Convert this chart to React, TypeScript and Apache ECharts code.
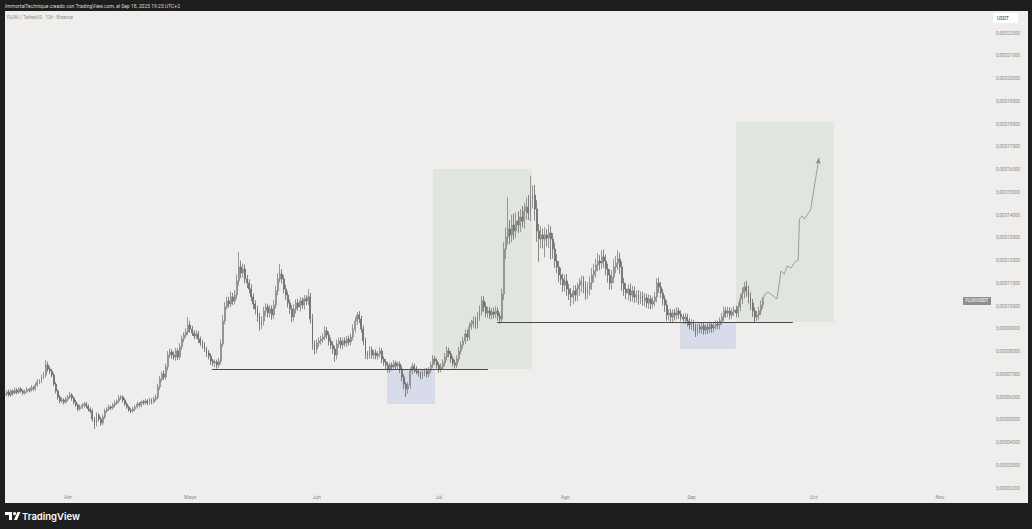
import React, { useEffect, useRef } from "react";
import * as echarts from "echarts";

// ---- data (prices in units of 1e-8 USDT) ----
const START = Date.UTC(2025, 2, 16, 12);
const STEP = 12 * 3600 * 1000;
const FIRST_OPEN = 6100;

const closes = [
  6132,6220,6088,6264,6176,6300,6210,6350,6260,6180,
  6240,6330,6290,6400,6360,6527,6660,6700,6880,6967,
  7407,7231,7143,6967,6571,6264,6000,5824,5868,5780,
  5912,6000,6088,5956,5780,5648,5473,5560,5648,5692,
  5604,5473,5385,5033,4857,5209,5033,4857,5121,5385,
  5473,5560,5517,5648,5736,5824,5956,6000,5868,5692,
  5560,5429,5385,5473,5560,5692,5648,5780,5736,5824,
  5736,5868,5780,5912,6000,6440,6791,7011,6880,7319,
  7846,7978,7846,7758,8022,7758,8198,8549,8725,8857,
  9165,8989,8813,8681,8769,8549,8374,8286,8110,7934,
  7802,7582,7495,7539,7407,7582,8330,9341,9956,10220,
  10088,10396,10220,10483,11099,11714,11451,11626,11187,11011,
  10747,10396,10088,9868,9516,9165,9341,9780,9956,9692,
  9868,9604,10044,10659,11187,11407,11187,10747,10483,10132,
  9868,9516,9868,10132,9956,10220,10044,10308,10220,10396,
  9429,8330,8110,8374,8462,8549,8637,8901,8725,8462,
  8286,8110,7846,8330,8462,8286,8462,8374,8549,8418,
  8637,8989,9341,9604,9429,8989,8462,7890,7846,8066,
  7846,7934,7802,7890,8022,7670,7539,7407,7231,7407,
  7319,7495,7363,7451,7231,6880,6571,6352,6527,7143,
  7363,7231,7143,7055,6923,7055,7143,7011,7187,7407,
  7670,7582,7407,7231,7319,7495,7758,8022,7890,7670,
  7495,7407,7670,8022,8286,8462,8769,8637,9077,9209,
  9341,9165,9516,9780,10220,9956,9692,9780,9604,9736,
  9648,9780,9560,9429,10527,12505,13033,13385,13121,13560,
  13297,13736,13560,13912,13736,14176,14352,14088,14703,14879,
  14264,13297,12945,13121,12945,13121,12989,13209,12945,12505,
  11978,11714,11363,11187,10923,11099,10747,10527,10396,10659,
  10483,10747,10923,11099,10835,10571,10747,11011,11363,11538,
  11802,11978,11890,12154,11978,11626,11363,11011,11275,11714,
  11890,12066,11714,11011,10747,10571,10747,10483,10659,10396,
  10483,10308,10440,10220,10352,10132,10308,10088,10220,10396,
  11011,10835,10571,10308,10044,9604,9692,9516,9692,9604,
  9780,9648,9516,9429,9516,9341,9165,9253,9077,8901,
  9077,8989,9121,8945,9077,8989,9165,9033,9121,9209,
  9165,9341,9516,9780,9692,9780,9604,9736,9824,9692,
  9956,10308,10571,10835,10659,10396,10132,9780,9516,9604,
  9780,10044,10220,
];

const upperWicks = [
  90,70,110,80,60,120,90,70,100,80,
  90,110,70,120,80,100,130,90,110,140,
  220,150,120,90,100,80,70,90,110,80,
  100,90,130,80,70,90,60,110,80,100,
  90,70,80,100,90,120,80,90,110,100,
  80,100,70,90,110,80,120,90,70,80,
  90,70,80,100,90,110,80,70,100,90,
  80,90,70,100,120,150,130,110,160,140,
  180,150,120,160,140,110,170,150,130,160,
  350,180,140,120,160,130,110,140,120,100,
  130,110,90,120,100,140,200,260,220,180,
  190,240,180,220,300,660,280,240,200,180,
  170,210,150,160,140,180,200,190,160,150,
  180,160,210,230,250,440,210,170,190,160,
  150,180,200,160,190,170,150,180,160,350,
  180,220,160,150,170,140,160,220,170,150,
  140,160,130,190,150,170,140,160,130,150,
  150,200,180,130,170,140,160,150,130,170,
  150,140,160,130,170,120,110,130,140,120,
  110,130,100,120,110,140,120,90,130,160,
  140,110,120,100,90,120,110,130,120,150,
  170,140,120,110,150,160,180,200,150,130,
  120,140,160,180,170,190,200,180,210,190,
  200,180,220,240,220,210,190,200,180,170,
  190,200,160,150,240,300,420,1400,380,450,
  500,380,420,350,480,360,400,520,1010,420,
  450,380,320,400,280,340,260,380,300,260,
  280,300,260,320,240,280,300,220,260,240,
  260,280,300,240,220,260,300,280,320,300,
  280,340,260,300,320,280,240,260,300,340,
  320,380,280,240,220,260,200,240,220,200,
  180,220,200,190,210,180,200,170,190,220,
  200,240,220,180,160,200,170,190,160,180,
  170,150,160,140,170,150,130,160,140,150,
  130,150,120,140,130,150,140,120,130,150,
  140,160,180,200,170,190,160,180,170,190,
  200,220,240,220,260,230,200,180,160,170,
  190,210,180,
];

const lowerWicks = [
  80,100,70,90,110,60,90,80,70,100,
  80,70,90,60,100,80,70,90,80,100,
  120,110,130,100,90,110,120,100,90,110,
  80,100,90,120,110,90,100,80,90,110,
  100,120,90,110,264,150,110,130,100,90,
  80,90,100,70,90,80,100,90,110,80,
  90,80,100,70,90,80,100,90,80,70,
  90,80,100,70,90,110,130,120,140,110,
  150,130,170,120,160,140,110,130,150,120,
  140,160,130,150,120,170,140,160,130,180,
  150,170,140,180,160,130,150,120,140,110,
  160,140,180,150,170,200,230,210,190,220,
  200,180,220,240,210,250,180,200,230,210,
  190,210,170,160,180,150,200,190,220,200,
  210,230,180,200,170,190,160,200,180,170,
  200,250,230,190,170,160,180,150,170,200,
  180,210,304,190,170,160,180,150,170,160,
  150,140,160,180,170,160,190,220,200,170,
  160,180,150,170,160,180,170,190,150,170,
  160,140,170,150,180,200,230,352,210,160,
  150,170,140,160,150,130,140,160,150,130,
  140,160,150,170,140,130,150,160,140,170,
  150,160,140,130,150,160,140,170,150,130,
  160,180,150,170,200,220,190,210,180,200,
  190,170,200,210,180,260,440,340,400,320,
  380,300,350,320,290,340,380,310,360,420,
  520,480,1000,400,420,800,380,450,900,420,
  300,280,320,260,300,280,320,260,400,300,
  280,260,300,320,280,300,260,280,300,320,
  300,280,320,260,300,280,340,300,280,260,
  280,300,320,340,300,280,320,300,280,260,
  240,260,220,200,240,220,260,240,200,220,
  240,260,220,280,300,260,240,220,260,240,
  200,220,180,200,220,240,200,220,180,264,
  200,180,220,200,190,210,180,200,190,170,
  180,200,170,190,210,180,200,170,190,180,
  200,180,220,240,260,280,300,260,220,176,
  200,180,170,
];

// y-axis ticks (1e-8 units)
const yMin = 2000;
const yMax = 23000;
const yInterval = 1000;

// x-axis month ticks
const monthTicks = [
  "2025-04-01T00:00:00Z", "2025-05-01T00:00:00Z", "2025-06-01T00:00:00Z", "2025-07-01T00:00:00Z",
  "2025-08-01T00:00:00Z", "2025-09-01T00:00:00Z", "2025-10-01T00:00:00Z", "2025-11-01T00:00:00Z",
];
const monthLabels = ["Abr", "Mayo", "Jun", "Jul", "Ago", "Sep", "Oct", "Nov"];
const xRange = ["2025-03-16T13:00:00Z", "2025-11-13T06:30:00Z"];

// projected path drawing
const projTimes = [
  "2025-09-18T12:00:00Z", "2025-09-19T01:00:00Z", "2025-09-19T19:00:00Z", "2025-09-21T00:30:00Z",
  "2025-09-22T00:00:00Z", "2025-09-22T23:30:00Z", "2025-09-23T19:00:00Z", "2025-09-24T12:00:00Z",
  "2025-09-25T10:00:00Z", "2025-09-26T10:00:00Z", "2025-09-27T05:00:00Z", "2025-09-27T12:00:00Z",
  "2025-09-28T05:00:00Z", "2025-09-28T17:00:00Z", "2025-09-29T14:00:00Z", "2025-09-30T07:00:00Z",
  "2025-10-02T07:00:00Z",
];
const projValues = [
  10220, 10527, 10615, 10440, 10308, 11538, 11407, 11758,
  11670, 11934, 12022, 13824, 13956, 13824, 14044, 14264,
  16505,
];

// zones: [startTime, endTime, top, bottom]
const greenZones = [
  ["2025-06-29T14:00:00Z", "2025-07-23T21:00:00Z", 16022, 7231],
  ["2025-09-11T22:00:00Z", "2025-10-05T23:30:00Z", 18110, 9297],
];
const blueZones = [
  ["2025-06-18T07:00:00Z", "2025-06-30T01:40:00Z", 7231, 5692],
  ["2025-08-29T04:30:00Z", "2025-09-11T22:00:00Z", 9297, 8110],
];
// horizontal levels: [startTime, endTime, value]
const levels = [
  ["2025-05-06T08:00:00Z", "2025-07-13T01:40:00Z", 7231],
  ["2025-07-15T07:00:00Z", "2025-09-25T22:00:00Z", 9297],
];
const symbolLabelTime = "2025-11-10T02:00:00Z";

const T = (s: string) => Date.parse(s);

export default function App() {
  const ref = useRef<HTMLDivElement>(null);

  useEffect(() => {
    if (!ref.current) return;
    const chart = echarts.init(ref.current, null, { renderer: "svg" });

    const candles = closes.map((c, i) => {
      const o = i === 0 ? FIRST_OPEN : closes[i - 1];
      return [START + i * STEP, o, c, Math.min(o, c) - lowerWicks[i], Math.max(o, c) + upperWicks[i]];
    });

    const last = projTimes.length - 1;
    const projData = projTimes.map((t, i) =>
      i === last
        ? { value: [T(t), projValues[i]], symbol: "arrow", symbolSize: [4, 6], symbolRotate: -9 }
        : [T(t), projValues[i]]
    );

    const areaData: any[] = [];
    greenZones.forEach((z: any) =>
      areaData.push([
        { coord: [T(z[0]), z[2]], itemStyle: { color: "#e0e6dd" } },
        { coord: [T(z[1]), z[3]] },
      ])
    );
    blueZones.forEach((z: any) =>
      areaData.push([
        { coord: [T(z[0]), z[2]], itemStyle: { color: "#d8dbea" } },
        { coord: [T(z[1]), z[3]] },
      ])
    );
    const lineData = levels.map((l: any) => [
      { coord: [T(l[0]), l[2]] },
      { coord: [T(l[1]), l[2]] },
    ]);

    const font = "Roboto, 'Noto Sans', sans-serif";

    chart.setOption({
      animation: false,
      backgroundColor: "#1e1e1e",
      grid: {
        left: 5,
        right: 42,
        top: 10.25,
        bottom: 41,
        containLabel: false,
      },
      xAxis: {
        type: "value",
        min: T(xRange[0]),
        max: T(xRange[1]),
        axisLine: { show: false },
        axisTick: { show: false },
        splitLine: { show: false },
        axisLabel: {
          customValues: monthTicks.map(T),
          formatter: (v: number) => monthLabels[new Date(v).getUTCMonth() - 3] || "",
          color: "#8a8a8a",
          fontSize: 5,
          fontFamily: font,
          margin: 6,
        },
      },
      yAxis: {
        type: "value",
        position: "right",
        min: yMin,
        max: yMax,
        interval: yInterval,
        scale: false,
        axisLine: { show: false },
        axisTick: { show: false },
        splitLine: { show: false },
        axisLabel: {
          formatter: (v: number) => (v >= yMax ? "" : "0," + String(v).padStart(8, "0")),
          color: "#8a8a8a",
          fontSize: 4.6,
          fontFamily: font,
          margin: 6,
          align: "left",
        },
      },
      graphic: [
        { type: "rect", z: -10, shape: { x: 5, y: 11, width: 1023, height: 492 }, style: { fill: "#efeeec" } },
        { type: "rect", z: 50, shape: { x: 0, y: 0, width: 1032, height: 11 }, style: { fill: "#1e1e1e" } },
        {
          type: "text", z: 51, x: 5, y: 5.5,
          style: {
            text: "ImmortalTechnique creado con TradingView.com, el Sep 18, 2025 19:25 UTC+2",
            fill: "#d8d8d8", fontSize: 5, fontFamily: font, verticalAlign: "middle",
          },
        },
        {
          type: "text", z: 51, x: 7, y: 17,
          style: {
            text: "FLOKI / TetherUS · 12h · Binance",
            fill: "#8e8e8e", fontSize: 4.6, fontFamily: font, verticalAlign: "middle",
          },
        },
        { type: "rect", z: 51, shape: { x: 993, y: 13, width: 25, height: 10 }, style: { fill: "#ffffff" } },
        {
          type: "text", z: 52, x: 997, y: 18,
          style: { text: "USDT", fill: "#333333", fontSize: 4.8, fontFamily: font, verticalAlign: "middle" },
        },
        { type: "rect", z: 50, shape: { x: 0, y: 503, width: 1032, height: 26 }, style: { fill: "#1e1e1e" } },
        { type: "rect", z: 50, shape: { x: 0, y: 0, width: 5, height: 529 }, style: { fill: "#1e1e1e" } },
        { type: "rect", z: 50, shape: { x: 1028, y: 0, width: 4, height: 529 }, style: { fill: "#1e1e1e" } },
        { type: "rect", z: 51, shape: { x: 5, y: 512, width: 7, height: 3 }, style: { fill: "#ffffff" } },
        { type: "rect", z: 51, shape: { x: 9, y: 512, width: 3, height: 8 }, style: { fill: "#ffffff" } },
        { type: "circle", z: 51, shape: { cx: 14.6, cy: 513.6, r: 1.6 }, style: { fill: "#ffffff" } },
        {
          type: "polygon", z: 51,
          shape: { points: [[17.5, 512], [20.5, 512], [17, 520], [14, 520]] },
          style: { fill: "#ffffff" },
        },
        {
          type: "text", z: 51, x: 22, y: 516.5,
          style: {
            text: "TradingView", fill: "#ffffff", fontSize: 9.5, fontWeight: 600,
            fontFamily: "Inter, Roboto, sans-serif", verticalAlign: "middle",
          },
        },
      ],
      series: [
        {
          type: "candlestick",
          data: candles,
          encode: { x: 0, y: [1, 2, 3, 4] },
          barWidth: 1.4,
          itemStyle: {
            color: "#dedede",
            color0: "#767676",
            borderColor: "#828282",
            borderColor0: "#6a6a6a",
            borderWidth: 0.8,
          },
          z: 3,
          markPoint: {
            symbol: "rect",
            symbolSize: [28, 8],
            silent: true,
            itemStyle: { color: "#8e8e8e" },
            label: { show: true, formatter: "FLOKIUSDT", color: "#ffffff", fontSize: 4.5, fontFamily: font },
            data: [{ coord: [T(symbolLabelTime), closes[closes.length - 1]] }],
          },
        },
        {
          type: "line",
          data: projData,
          symbol: "none",
          lineStyle: { color: "#8a8a8a", width: 0.8 },
          itemStyle: { color: "#8a8a8a" },
          z: 4,
          markArea: { silent: true, data: areaData },
          markLine: {
            silent: true,
            symbol: ["none", "none"],
            label: { show: false },
            lineStyle: { color: "#4a4a4a", width: 1, type: "solid" },
            data: lineData,
          },
        },
      ],
    });

    return () => chart.dispose();
  }, []);

  return (
    <div
      ref={ref}
      style={{ position: "fixed", left: 0, top: 0, width: 1032, height: 529 }}
    />
  );
}
